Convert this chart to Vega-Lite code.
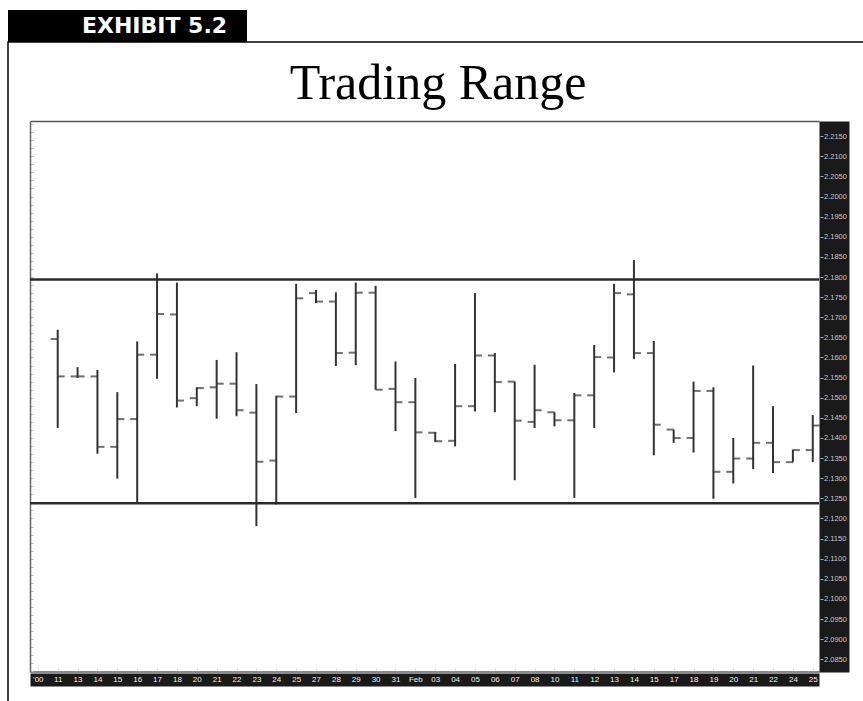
{
  "$schema": "https://vega.github.io/schema/vega-lite/v6.json",
  "padding": {"left": 7, "top": 10, "right": 0, "bottom": 0},
  "background": "white",
  "bounds": "flush",
  "spacing": 0,
  "config": {"axis": {"grid": false}},
  "datasets": {
    "badge": [{"label": "EXHIBIT 5.2"}],
    "levels": [
      {"name": "resistance", "price": 2.1794},
      {"name": "support", "price": 2.1238}
    ],
    "bars": [
      {"i": 1, "open": 2.1646, "high": 2.1669, "low": 2.1425, "close": 2.1553},
      {"i": 2, "open": 2.1553, "high": 2.1576, "low": 2.1549, "close": 2.1553},
      {"i": 3, "open": 2.1553, "high": 2.1569, "low": 2.1361, "close": 2.1378},
      {"i": 4, "open": 2.1378, "high": 2.1514, "low": 2.1299, "close": 2.1447},
      {"i": 5, "open": 2.1447, "high": 2.1640, "low": 2.1239, "close": 2.1607},
      {"i": 6, "open": 2.1607, "high": 2.1809, "low": 2.1547, "close": 2.1708},
      {"i": 7, "open": 2.1707, "high": 2.1786, "low": 2.1476, "close": 2.1493},
      {"i": 8, "open": 2.1499, "high": 2.1526, "low": 2.1479, "close": 2.1524},
      {"i": 9, "open": 2.1526, "high": 2.1594, "low": 2.1448, "close": 2.1535},
      {"i": 10, "open": 2.1535, "high": 2.1613, "low": 2.1454, "close": 2.1469},
      {"i": 11, "open": 2.1463, "high": 2.1534, "low": 2.1181, "close": 2.1341},
      {"i": 12, "open": 2.1344, "high": 2.1505, "low": 2.1235, "close": 2.1503},
      {"i": 13, "open": 2.1503, "high": 2.1783, "low": 2.1462, "close": 2.1747},
      {"i": 14, "open": 2.1760, "high": 2.1768, "low": 2.1735, "close": 2.1739},
      {"i": 15, "open": 2.1739, "high": 2.1762, "low": 2.1579, "close": 2.1611},
      {"i": 16, "open": 2.1612, "high": 2.1786, "low": 2.1581, "close": 2.1761},
      {"i": 17, "open": 2.1761, "high": 2.1778, "low": 2.1520, "close": 2.1520},
      {"i": 18, "open": 2.1522, "high": 2.1590, "low": 2.1417, "close": 2.1489},
      {"i": 19, "open": 2.1489, "high": 2.1549, "low": 2.1251, "close": 2.1414},
      {"i": 20, "open": 2.1413, "high": 2.1415, "low": 2.1390, "close": 2.1392},
      {"i": 21, "open": 2.1393, "high": 2.1584, "low": 2.1379, "close": 2.1479},
      {"i": 22, "open": 2.1479, "high": 2.1760, "low": 2.1466, "close": 2.1605},
      {"i": 23, "open": 2.1605, "high": 2.1611, "low": 2.1464, "close": 2.1539},
      {"i": 24, "open": 2.1540, "high": 2.1540, "low": 2.1295, "close": 2.1443},
      {"i": 25, "open": 2.1440, "high": 2.1582, "low": 2.1425, "close": 2.1469},
      {"i": 26, "open": 2.1464, "high": 2.1464, "low": 2.1429, "close": 2.1444},
      {"i": 27, "open": 2.1444, "high": 2.1512, "low": 2.1251, "close": 2.1506},
      {"i": 28, "open": 2.1506, "high": 2.1631, "low": 2.1425, "close": 2.1601},
      {"i": 29, "open": 2.1600, "high": 2.1783, "low": 2.1563, "close": 2.1760},
      {"i": 30, "open": 2.1757, "high": 2.1842, "low": 2.1596, "close": 2.1611},
      {"i": 31, "open": 2.1611, "high": 2.1641, "low": 2.1357, "close": 2.1433},
      {"i": 32, "open": 2.1421, "high": 2.1421, "low": 2.1388, "close": 2.1400},
      {"i": 33, "open": 2.1400, "high": 2.1540, "low": 2.1364, "close": 2.1517},
      {"i": 34, "open": 2.1517, "high": 2.1526, "low": 2.1249, "close": 2.1316},
      {"i": 35, "open": 2.1316, "high": 2.1400, "low": 2.1287, "close": 2.1349},
      {"i": 36, "open": 2.1349, "high": 2.1580, "low": 2.1323, "close": 2.1388},
      {"i": 37, "open": 2.1388, "high": 2.1479, "low": 2.1313, "close": 2.1340},
      {"i": 38, "open": 2.1340, "high": 2.1371, "low": 2.1340, "close": 2.1370},
      {"i": 39, "open": 2.1370, "high": 2.1457, "low": 2.1340, "close": 2.1431}
    ]
  },
  "vconcat": [
    {
      "width": 239,
      "height": 32,
      "view": {"fill": "black", "stroke": null},
      "data": {"name": "badge"},
      "mark": {"type": "text", "color": "white", "font": "DejaVu Sans", "fontWeight": "bold", "fontSize": 22, "align": "center", "baseline": "alphabetic"},
      "encoding": {
        "text": {"field": "label", "type": "nominal"},
        "x": {"datum": 0.613, "type": "quantitative", "scale": {"domain": [0, 1]}, "axis": null},
        "y": {"datum": 0.28, "type": "quantitative", "scale": {"domain": [0, 1]}, "axis": null}
      }
    },
    {
      "width": 860,
      "height": 665,
      "view": {"stroke": "black", "strokeWidth": 1.5, "fill": "white"},
      "resolve": {"axis": {"x": "independent", "y": "independent"}},
      "layer": [
        {
          "data": {"name": "bars"},
          "mark": {"type": "rule", "color": "#333333", "strokeWidth": 2},
          "encoding": {
            "x": {
              "field": "i", "type": "quantitative",
              "scale": {"domain": [-0.394, 39.314], "range": [22, 811], "zero": false, "nice": false},
              "axis": {
                "orient": "bottom", "offset": -27.5, "title": null,
                "domain": true, "domainColor": "#1a1a1a", "domainWidth": 13,
                "ticks": false, "labels": false, "grid": false, "zindex": 0
              }
            },
            "y": {
              "field": "low", "type": "quantitative",
              "scale": {"domain": [2.08186, 2.21876], "range": [630, 79], "zero": false, "nice": false},
              "axis": {
                "orient": "right", "offset": -34, "title": null,
                "domain": true, "domainColor": "#1a1a1a", "domainWidth": 30,
                "ticks": false, "labels": false, "grid": false, "zindex": 0
              }
            },
            "y2": {"field": "high"}
          }
        },
        {
          "data": {"name": "bars"},
          "mark": {"type": "tick", "orient": "horizontal", "color": "#333333", "size": 7, "thickness": 2, "xOffset": -3.5},
          "encoding": {
            "x": {
              "field": "i", "type": "quantitative",
              "scale": {"domain": [-0.394, 39.314], "range": [22, 811], "zero": false, "nice": false},
              "axis": {
                "orient": "top", "offset": -79, "title": "Trading Range",
                "titleX": 429.5, "titleY": -23, "titleAlign": "center", "titleBaseline": "alphabetic",
                "titleFont": "Liberation Serif", "titleFontSize": 50, "titleFontWeight": "normal", "titleColor": "#000000",
                "domain": true, "domainColor": "#555555", "domainWidth": 1.5,
                "ticks": false, "labels": false, "grid": false
              }
            },
            "y": {
              "field": "open", "type": "quantitative",
              "scale": {"domain": [2.08186, 2.21876], "range": [630, 79], "zero": false, "nice": false},
              "axis": {
                "orient": "left", "offset": -22, "title": null,
                "domain": true, "domainColor": "#666666", "domainWidth": 1.5,
                "labels": false, "ticks": true, "tickSize": -3, "tickColor": "#bbbbbb", "tickCount": 55, "grid": false
              }
            }
          }
        },
        {
          "data": {"name": "bars"},
          "mark": {"type": "tick", "orient": "horizontal", "color": "#333333", "size": 7, "thickness": 2, "xOffset": 3.5},
          "encoding": {
            "x": {
              "field": "i", "type": "quantitative",
              "scale": {"domain": [-0.394, 39.314], "range": [22, 811], "zero": false, "nice": false},
              "axis": {
                "orient": "bottom", "offset": -27.5, "title": null,
                "values": [0,1,2,3,4,5,6,7,8,9,10,11,12,13,14,15,16,17,18,19,20,21,22,23,24,25,26,27,28,29,30,31,32,33,34,35,36,37,38,39],
                "labelExpr": "[\"'00\",\"11\",\"13\",\"14\",\"15\",\"16\",\"17\",\"18\",\"20\",\"21\",\"22\",\"23\",\"24\",\"25\",\"27\",\"28\",\"29\",\"30\",\"31\",\"Feb\",\"03\",\"04\",\"05\",\"06\",\"07\",\"08\",\"10\",\"11\",\"12\",\"13\",\"14\",\"15\",\"17\",\"18\",\"19\",\"20\",\"21\",\"22\",\"24\",\"25\"][datum.value]",
                "domain": false, "ticks": false, "labelPadding": 0, "labelBaseline": "middle",
                "labelColor": "#f2f2f2", "labelFontSize": 8, "labelFont": "Liberation Sans",
                "labelFlush": false, "labelOverlap": false, "grid": false, "zindex": 2
              }
            },
            "y": {
              "field": "close", "type": "quantitative",
              "scale": {"domain": [2.08186, 2.21876], "range": [630, 79], "zero": false, "nice": false},
              "axis": {
                "orient": "right", "offset": -48, "title": null, "tickCount": 28, "format": ".4f",
                "domain": false, "ticks": true, "tickSize": 3, "tickColor": "#aaaaaa",
                "labelPadding": 0.5, "labelAlign": "left", "labelBaseline": "middle",
                "labelColor": "#c8c8c8", "labelFontSize": 7.5, "labelFont": "Liberation Sans",
                "labelOverlap": false, "labelFlush": false, "grid": false, "zindex": 2
              }
            }
          }
        },
        {
          "data": {"name": "levels"},
          "mark": {"type": "rule", "color": "#2a2a2a", "strokeWidth": 2.5},
          "encoding": {
            "y": {"field": "price", "type": "quantitative", "scale": {"domain": [2.08186, 2.21876], "range": [630, 79], "zero": false, "nice": false}, "axis": null},
            "x": {
              "datum": -0.394, "type": "quantitative",
              "scale": {"domain": [-0.394, 39.314], "range": [22, 811], "zero": false, "nice": false},
              "axis": {
                "orient": "bottom", "offset": -35.5, "title": null,
                "values": [0,1,2,3,4,5,6,7,8,9,10,11,12,13,14,15,16,17,18,19,20,21,22,23,24,25,26,27,28,29,30,31,32,33,34,35,36,37,38,39],
                "domain": true, "domainColor": "#8a8a8a", "domainWidth": 2,
                "labels": false, "ticks": true, "tickSize": -4, "tickColor": "#e2e2e2", "grid": false
              }
            },
            "x2": {"datum": 39.314}
          }
        }
      ]
    }
  ]
}
